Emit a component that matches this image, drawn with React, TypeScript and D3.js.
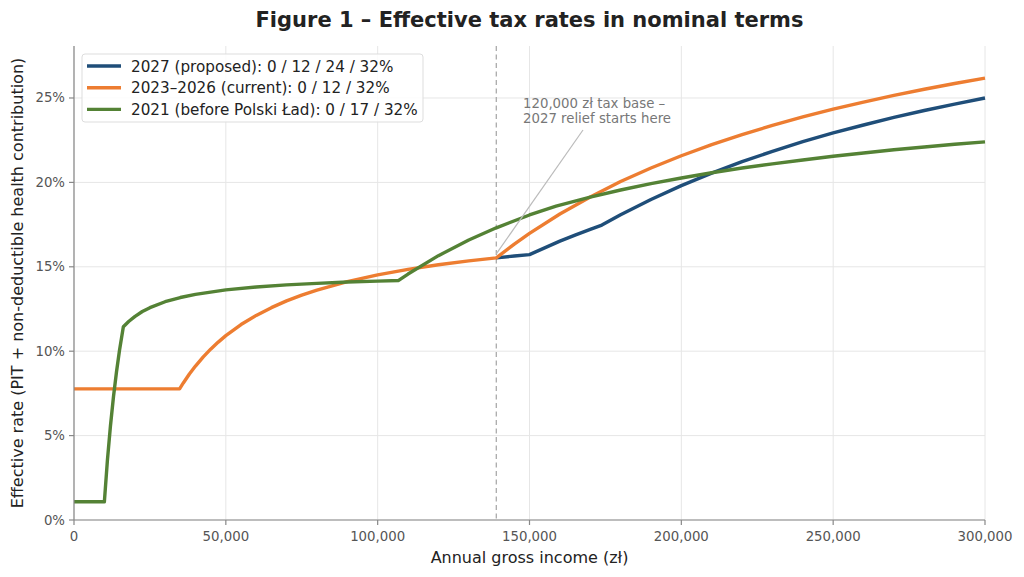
import React from "react";
import * as d3 from "d3";

// Annual gross income (zł) and effective rates (%)
// (below the 120,000 zł tax base the 2027 line coincides with the current one)
const incomeProposed = [139066, 145000, 150000, 160000, 165000, 170000, 173833, 180000, 190000, 200000, 210000, 220000, 230000, 240000, 250000, 260000, 270000, 280000, 290000, 300000];
const rateProposed = [15.53, 15.64, 15.72, 16.52, 16.88, 17.22, 17.47, 18.08, 18.99, 19.81, 20.55, 21.23, 21.84, 22.41, 22.93, 23.40, 23.85, 24.26, 24.64, 25.00];

const incomeCurrent = [0, 34767, 36000, 38000, 40000, 42500, 45000, 47500, 50000, 55000, 60000, 65000, 70000, 75000, 80000, 90000, 100000, 110000, 120000, 130000, 139066, 145000, 150000, 160000, 170000, 180000, 190000, 200000, 210000, 220000, 230000, 240000, 250000, 260000, 270000, 280000, 290000, 300000];
const rateCurrent = [7.77, 7.77, 8.12, 8.65, 9.12, 9.65, 10.12, 10.54, 10.92, 11.58, 12.12, 12.58, 12.98, 13.32, 13.62, 14.12, 14.52, 14.85, 15.12, 15.35, 15.53, 16.34, 16.98, 18.13, 19.14, 20.05, 20.85, 21.58, 22.24, 22.83, 23.38, 23.88, 24.34, 24.76, 25.16, 25.52, 25.86, 26.18];

const income2021 = [0, 10000, 11000, 12000, 13000, 14000, 15000, 16250, 18000, 20000, 22500, 25000, 30000, 35000, 40000, 50000, 60000, 70000, 80000, 90000, 100000, 106910, 110000, 120000, 130000, 139066, 150000, 158750, 170000, 180000, 190000, 200000, 210000, 220000, 230000, 240000, 250000, 260000, 270000, 280000, 290000, 300000];
const rate2021 = [1.08, 1.08, 3.53, 5.57, 7.30, 8.78, 10.07, 11.45, 11.76, 12.05, 12.35, 12.58, 12.93, 13.18, 13.37, 13.63, 13.80, 13.93, 14.02, 14.10, 14.15, 14.19, 14.57, 15.66, 16.59, 17.31, 18.07, 18.60, 19.13, 19.55, 19.93, 20.26, 20.57, 20.85, 21.10, 21.33, 21.55, 21.74, 21.93, 22.10, 22.26, 22.40];

const seriesNames = [
  "2027 (proposed): 0 / 12 / 24 / 32%",
  "2023–2026 (current): 0 / 12 / 32%",
  "2021 (before Polski Ład): 0 / 17 / 32%",
];
const seriesColors = ["#1f4e79", "#ed7d31", "#548235"];

const xTicks = [0, 50000, 100000, 150000, 200000, 250000, 300000];
const yTicks = [0, 5, 10, 15, 20, 25];
const thresholdIncome = 139066;
const annotationLines = ["120,000 zł tax base –", "2027 relief starts here"];

const W = 1024;
const H = 577;
const M = { left: 74, right: 985, top: 46, bottom: 520 };

export default function App() {
  const x = d3.scaleLinear().domain([0, 300000]).range([M.left, M.right]);
  const y = d3.scaleLinear().domain([0, 28.08]).range([M.bottom, M.top]);
  const fmt = d3.format(",");

  const series = [
    { xs: incomeProposed, ys: rateProposed },
    { xs: incomeCurrent, ys: rateCurrent },
    { xs: income2021, ys: rate2021 },
  ];
  const line = d3
    .line<[number, number]>()
    .x((d) => x(d[0]))
    .y((d) => y(d[1]))
    .curve(d3.curveLinear);

  const font = "DejaVu Sans, sans-serif";
  const tickColor = "#555";
  const spineColor = "#888";
  const gridColor = "#e6e6e6";

  const tx = x(thresholdIncome);
  const tyIdx = incomeCurrent.indexOf(thresholdIncome);
  const ty = y(rateCurrent[tyIdx]);

  return (
    <svg
      width={W}
      height={H}
      style={{ position: "absolute", left: 0, top: 0, background: "#fff" }}
      fontFamily={font}
    >
      <rect x={0} y={0} width={W} height={H} fill="#fff" />
      {/* grid */}
      {xTicks.map((t) => (
        <line key={"gx" + t} x1={x(t)} x2={x(t)} y1={M.top} y2={M.bottom} stroke={gridColor} strokeWidth={1} />
      ))}
      {yTicks.map((t) => (
        <line key={"gy" + t} x1={M.left} x2={M.right} y1={y(t)} y2={y(t)} stroke={gridColor} strokeWidth={1} />
      ))}
      {/* threshold dashed line */}
      <line x1={tx} x2={tx} y1={M.top} y2={M.bottom} stroke="#aaa" strokeWidth={1.3} strokeDasharray="5,3.5" />
      {/* series */}
      {series.map((s, i) => (
        <path
          key={"s" + i}
          d={line(s.xs.map((v, j) => [v, s.ys[j]] as [number, number])) || ""}
          fill="none"
          stroke={seriesColors[i]}
          strokeWidth={3.4}
          strokeLinejoin="round"
          strokeLinecap="butt"
        />
      ))}
      {/* annotation */}
      <line x1={tx} y1={ty - 4} x2={583} y2={130} stroke="#bbb" strokeWidth={1.2} />
      {annotationLines.map((t, i) => (
        <text key={"a" + i} x={523} y={108 + i * 15} fontSize={13.3} fill="#777">
          {t}
        </text>
      ))}
      {/* spines */}
      <line x1={M.left} x2={M.left} y1={M.top} y2={M.bottom} stroke={spineColor} strokeWidth={1.2} />
      <line x1={M.left} x2={M.right} y1={M.bottom} y2={M.bottom} stroke={spineColor} strokeWidth={1.2} />
      {/* x ticks */}
      {xTicks.map((t) => (
        <g key={"xt" + t}>
          <line x1={x(t)} x2={x(t)} y1={M.bottom} y2={M.bottom + 5} stroke={spineColor} strokeWidth={1.2} />
          <text x={x(t)} y={M.bottom + 21} fontSize={13.3} fill={tickColor} textAnchor="middle">
            {fmt(t)}
          </text>
        </g>
      ))}
      {/* y ticks */}
      {yTicks.map((t) => (
        <g key={"yt" + t}>
          <line x1={M.left - 5} x2={M.left} y1={y(t)} y2={y(t)} stroke={spineColor} strokeWidth={1.2} />
          <text x={M.left - 9} y={y(t) + 4.5} fontSize={13.3} fill={tickColor} textAnchor="end">
            {t + "%"}
          </text>
        </g>
      ))}
      {/* axis labels */}
      <text x={(M.left + M.right) / 2} y={563} fontSize={16} fill="#222" textAnchor="middle">
        Annual gross income (zł)
      </text>
      <text
        transform={`translate(23, ${(M.top + M.bottom) / 2}) rotate(-90)`}
        fontSize={16}
        fill="#222"
        textAnchor="middle"
      >
        Effective rate (PIT + non-deductible health contribution)
      </text>
      {/* title */}
      <text x={(M.left + M.right) / 2} y={27} fontSize={21} fontWeight="bold" fill="#222" textAnchor="middle">
        Figure 1 – Effective tax rates in nominal terms
      </text>
      {/* legend */}
      <rect x={82} y={54} width={341} height={68} rx={3} fill="#fff" fillOpacity={0.85} stroke="#ddd" strokeWidth={1} />
      {seriesNames.map((n, i) => (
        <g key={"l" + i}>
          <line x1={87} x2={121} y1={66 + i * 21.7} y2={66 + i * 21.7} stroke={seriesColors[i]} strokeWidth={3.4} />
          <text x={131} y={71.5 + i * 21.7} fontSize={15.2} fill="#222">
            {n}
          </text>
        </g>
      ))}
    </svg>
  );
}
